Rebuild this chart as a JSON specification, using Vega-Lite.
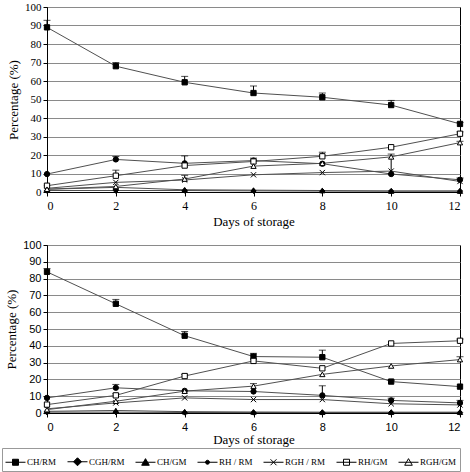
{
  "$schema": "https://vega.github.io/schema/vega-lite/v6.json",
  "padding": {"left": 1, "top": 0, "right": 5, "bottom": 0},
  "background": "white",
  "spacing": 9,
  "datasets": {
    "pts": [
      {"p": "top", "s": "CH/RM", "d": 0, "v": 89, "hi": 92.8},
      {"p": "top", "s": "CH/RM", "d": 2, "v": 68, "hi": 70},
      {"p": "top", "s": "CH/RM", "d": 4, "v": 59.3, "hi": 62.5},
      {"p": "top", "s": "CH/RM", "d": 6, "v": 53.5, "hi": 57.3},
      {"p": "top", "s": "CH/RM", "d": 8, "v": 51.2, "hi": 53.5},
      {"p": "top", "s": "CH/RM", "d": 10, "v": 47, "hi": 49.5},
      {"p": "top", "s": "CH/RM", "d": 12, "v": 36.8, "hi": 37.6},
      {"p": "top", "s": "CGH/RM", "d": 0, "v": 0.8},
      {"p": "top", "s": "CGH/RM", "d": 2, "v": 0.8},
      {"p": "top", "s": "CGH/RM", "d": 4, "v": 0.8},
      {"p": "top", "s": "CGH/RM", "d": 6, "v": 0.6},
      {"p": "top", "s": "CGH/RM", "d": 8, "v": 0.5},
      {"p": "top", "s": "CGH/RM", "d": 10, "v": 0.5},
      {"p": "top", "s": "CGH/RM", "d": 12, "v": 0.5},
      {"p": "top", "s": "CH/GM", "d": 0, "v": 1.5},
      {"p": "top", "s": "CH/GM", "d": 2, "v": 2.5},
      {"p": "top", "s": "CH/GM", "d": 4, "v": 1.2},
      {"p": "top", "s": "CH/GM", "d": 6, "v": 1},
      {"p": "top", "s": "CH/GM", "d": 8, "v": 0.8},
      {"p": "top", "s": "CH/GM", "d": 10, "v": 0.5},
      {"p": "top", "s": "CH/GM", "d": 12, "v": 0.5},
      {"p": "top", "s": "RH / RM", "d": 0, "v": 9.7},
      {"p": "top", "s": "RH / RM", "d": 2, "v": 17.6, "hi": 19.2},
      {"p": "top", "s": "RH / RM", "d": 4, "v": 15.5, "hi": 19.5},
      {"p": "top", "s": "RH / RM", "d": 6, "v": 17},
      {"p": "top", "s": "RH / RM", "d": 8, "v": 15.3},
      {"p": "top", "s": "RH / RM", "d": 10, "v": 9.7},
      {"p": "top", "s": "RH / RM", "d": 12, "v": 6.6, "hi": 7.6},
      {"p": "top", "s": "RGH / RM", "d": 0, "v": 2},
      {"p": "top", "s": "RGH / RM", "d": 2, "v": 5.2},
      {"p": "top", "s": "RGH / RM", "d": 4, "v": 6.5, "hi": 9},
      {"p": "top", "s": "RGH / RM", "d": 6, "v": 9.3},
      {"p": "top", "s": "RGH / RM", "d": 8, "v": 10.5},
      {"p": "top", "s": "RGH / RM", "d": 10, "v": 11.3, "hi": 20.5},
      {"p": "top", "s": "RGH / RM", "d": 12, "v": 5.7},
      {"p": "top", "s": "RH/GM", "d": 0, "v": 3.4},
      {"p": "top", "s": "RH/GM", "d": 2, "v": 8.8, "hi": 11.8},
      {"p": "top", "s": "RH/GM", "d": 4, "v": 14.3},
      {"p": "top", "s": "RH/GM", "d": 6, "v": 16.5, "hi": 18.3},
      {"p": "top", "s": "RH/GM", "d": 8, "v": 19.3, "hi": 21.5},
      {"p": "top", "s": "RH/GM", "d": 10, "v": 24.2},
      {"p": "top", "s": "RH/GM", "d": 12, "v": 31.5, "hi": 32.5},
      {"p": "top", "s": "RGH/GM", "d": 0, "v": 1.5},
      {"p": "top", "s": "RGH/GM", "d": 2, "v": 3},
      {"p": "top", "s": "RGH/GM", "d": 4, "v": 7},
      {"p": "top", "s": "RGH/GM", "d": 6, "v": 14},
      {"p": "top", "s": "RGH/GM", "d": 8, "v": 15.5},
      {"p": "top", "s": "RGH/GM", "d": 10, "v": 19},
      {"p": "top", "s": "RGH/GM", "d": 12, "v": 26.7, "hi": 27.4},

      {"p": "bot", "s": "CH/RM", "d": 0, "v": 84, "hi": 86},
      {"p": "bot", "s": "CH/RM", "d": 2, "v": 65, "hi": 67.6},
      {"p": "bot", "s": "CH/RM", "d": 4, "v": 46, "hi": 48.5},
      {"p": "bot", "s": "CH/RM", "d": 6, "v": 33.6, "hi": 35.5},
      {"p": "bot", "s": "CH/RM", "d": 8, "v": 33.2, "hi": 37.4},
      {"p": "bot", "s": "CH/RM", "d": 10, "v": 18.7, "hi": 19.5},
      {"p": "bot", "s": "CH/RM", "d": 12, "v": 15.7},
      {"p": "bot", "s": "CGH/RM", "d": 0, "v": 0.5},
      {"p": "bot", "s": "CGH/RM", "d": 2, "v": 0.5},
      {"p": "bot", "s": "CGH/RM", "d": 4, "v": 0.3},
      {"p": "bot", "s": "CGH/RM", "d": 6, "v": 0.3},
      {"p": "bot", "s": "CGH/RM", "d": 8, "v": 0.3},
      {"p": "bot", "s": "CGH/RM", "d": 10, "v": 0.3},
      {"p": "bot", "s": "CGH/RM", "d": 12, "v": 0.3},
      {"p": "bot", "s": "CH/GM", "d": 0, "v": 1},
      {"p": "bot", "s": "CH/GM", "d": 2, "v": 1.5},
      {"p": "bot", "s": "CH/GM", "d": 4, "v": 0.8},
      {"p": "bot", "s": "CH/GM", "d": 6, "v": 0.6},
      {"p": "bot", "s": "CH/GM", "d": 8, "v": 0.5},
      {"p": "bot", "s": "CH/GM", "d": 10, "v": 0.5},
      {"p": "bot", "s": "CH/GM", "d": 12, "v": 0.5},
      {"p": "bot", "s": "RH / RM", "d": 0, "v": 9},
      {"p": "bot", "s": "RH / RM", "d": 2, "v": 15, "hi": 17},
      {"p": "bot", "s": "RH / RM", "d": 4, "v": 13.2},
      {"p": "bot", "s": "RH / RM", "d": 6, "v": 12.8},
      {"p": "bot", "s": "RH / RM", "d": 8, "v": 10.5, "hi": 16.2},
      {"p": "bot", "s": "RH / RM", "d": 10, "v": 7.5, "hi": 8.8},
      {"p": "bot", "s": "RH / RM", "d": 12, "v": 6, "hi": 7.5},
      {"p": "bot", "s": "RGH / RM", "d": 0, "v": 2.5},
      {"p": "bot", "s": "RGH / RM", "d": 2, "v": 6},
      {"p": "bot", "s": "RGH / RM", "d": 4, "v": 9},
      {"p": "bot", "s": "RGH / RM", "d": 6, "v": 8},
      {"p": "bot", "s": "RGH / RM", "d": 8, "v": 8},
      {"p": "bot", "s": "RGH / RM", "d": 10, "v": 5.5},
      {"p": "bot", "s": "RGH / RM", "d": 12, "v": 4.8},
      {"p": "bot", "s": "RH/GM", "d": 0, "v": 5},
      {"p": "bot", "s": "RH/GM", "d": 2, "v": 10.5, "hi": 11.5},
      {"p": "bot", "s": "RH/GM", "d": 4, "v": 22, "hi": 23},
      {"p": "bot", "s": "RH/GM", "d": 6, "v": 31, "hi": 32},
      {"p": "bot", "s": "RH/GM", "d": 8, "v": 26.6},
      {"p": "bot", "s": "RH/GM", "d": 10, "v": 41.4},
      {"p": "bot", "s": "RH/GM", "d": 12, "v": 43, "hi": 44},
      {"p": "bot", "s": "RGH/GM", "d": 0, "v": 2},
      {"p": "bot", "s": "RGH/GM", "d": 2, "v": 7},
      {"p": "bot", "s": "RGH/GM", "d": 4, "v": 13},
      {"p": "bot", "s": "RGH/GM", "d": 6, "v": 16, "hi": 17.5},
      {"p": "bot", "s": "RGH/GM", "d": 8, "v": 23},
      {"p": "bot", "s": "RGH/GM", "d": 10, "v": 28},
      {"p": "bot", "s": "RGH/GM", "d": 12, "v": 31.8, "hi": 33.5}
    ]
  },
  "data": {"name": "pts"},
  "resolve": {"scale": {"shape": "independent", "fill": "independent"}, "legend": {"shape": "independent", "fill": "independent"}},
  "vconcat": [
    {
      "width": 413,
      "height": 185,
      "transform": [{"filter": "datum.p == 'top'"}],
      "encoding": {
        "x": {"field": "d", "type": "quantitative", "title": "Days of storage",
          "scale": {"domain": [0, 12], "nice": false},
          "axis": {"values": [0, 2, 4, 6, 8, 10, 12], "grid": false, "labelFont": "Liberation Serif", "labelFontSize": 12, "titleFont": "Liberation Serif", "titleFontSize": 13, "titleFontWeight": "normal", "labelPadding": 4, "titlePadding": 4, "tickSize": 4, "tickColor": "black", "domainColor": "black", "labelColor": "black", "titleColor": "black"}}
      },
      "layer": [
        {"mark": {"type": "line", "color": "#505050", "strokeWidth": 1},
         "encoding": {"detail": {"field": "s"},
           "y": {"field": "v", "type": "quantitative", "title": "Percentage (%)",
             "scale": {"domain": [0, 100], "nice": false},
             "axis": {"values": [0, 10, 20, 30, 40, 50, 60, 70, 80, 90, 100], "labelOverlap": false, "gridColor": "#8a8a8a", "gridOpacity": 1, "labelFont": "Liberation Serif", "labelFontSize": 11, "titleFont": "Liberation Serif", "titleFontSize": 13, "titleFontWeight": "normal", "labelPadding": 2, "titlePadding": 4, "tickSize": 4, "tickColor": "black", "domainColor": "black", "labelColor": "black", "titleColor": "black"}}}},
        {"transform": [{"filter": "isValid(datum.hi)"}],
         "mark": {"type": "rule", "color": "black", "strokeWidth": 1},
         "encoding": {"y": {"field": "v", "type": "quantitative", "title": "Percentage (%)",
             "scale": {"domain": [0, 100], "nice": false},
             "axis": {"values": [0, 10, 20, 30, 40, 50, 60, 70, 80, 90, 100], "labelOverlap": false, "gridColor": "#8a8a8a", "gridOpacity": 1, "labelFont": "Liberation Serif", "labelFontSize": 11, "titleFont": "Liberation Serif", "titleFontSize": 13, "titleFontWeight": "normal", "labelPadding": 2, "titlePadding": 4, "tickSize": 4, "tickColor": "black", "domainColor": "black", "labelColor": "black", "titleColor": "black"}}, "y2": {"field": "hi"}}},
        {"transform": [{"filter": "isValid(datum.hi)"}],
         "mark": {"type": "tick", "orient": "horizontal", "size": 7, "thickness": 1, "color": "black"},
         "encoding": {"y": {"field": "hi", "type": "quantitative", "title": "Percentage (%)",
             "scale": {"domain": [0, 100], "nice": false},
             "axis": {"values": [0, 10, 20, 30, 40, 50, 60, 70, 80, 90, 100], "labelOverlap": false, "gridColor": "#8a8a8a", "gridOpacity": 1, "labelFont": "Liberation Serif", "labelFontSize": 11, "titleFont": "Liberation Serif", "titleFontSize": 13, "titleFontWeight": "normal", "labelPadding": 2, "titlePadding": 4, "tickSize": 4, "tickColor": "black", "domainColor": "black", "labelColor": "black", "titleColor": "black"}}}},
        {"mark": {"type": "point", "filled": true, "stroke": "black", "strokeWidth": 1, "size": 28, "opacity": 1},
         "encoding": {
           "y": {"field": "v", "type": "quantitative", "title": "Percentage (%)",
             "scale": {"domain": [0, 100], "nice": false},
             "axis": {"values": [0, 10, 20, 30, 40, 50, 60, 70, 80, 90, 100], "labelOverlap": false, "gridColor": "#8a8a8a", "gridOpacity": 1, "labelFont": "Liberation Serif", "labelFontSize": 11, "titleFont": "Liberation Serif", "titleFontSize": 13, "titleFontWeight": "normal", "labelPadding": 2, "titlePadding": 4, "tickSize": 4, "tickColor": "black", "domainColor": "black", "labelColor": "black", "titleColor": "black"}},
           "shape": {"field": "s", "legend": null, "scale": {"domain": ["CH/RM", "CGH/RM", "CH/GM", "RH / RM", "RGH / RM", "RH/GM", "RGH/GM"], "range": ["square", "diamond", "triangle-up", "circle", "M-1,-1L1,1M-1,1L1,-1", "square", "triangle-up"]}},
           "fill": {"field": "s", "legend": null, "scale": {"domain": ["CH/RM", "CGH/RM", "CH/GM", "RH / RM", "RGH / RM", "RH/GM", "RGH/GM"], "range": ["black", "black", "black", "black", "black", "white", "white"]}}}}
      ]
    },
    {
      "width": 413,
      "height": 168,
      "transform": [{"filter": "datum.p == 'bot'"}],
      "resolve": {"scale": {"shape": "independent", "fill": "independent"}, "legend": {"shape": "independent", "fill": "independent"}},
      "encoding": {
        "x": {"field": "d", "type": "quantitative", "title": "Days of storage",
          "scale": {"domain": [0, 12], "nice": false},
          "axis": {"values": [0, 2, 4, 6, 8, 10, 12], "grid": false, "labelFont": "Liberation Sans", "labelFontSize": 11, "titleFont": "Liberation Serif", "titleFontSize": 13, "titleFontWeight": "normal", "labelPadding": 4, "titlePadding": 1, "tickSize": 4, "tickColor": "black", "domainColor": "black", "labelColor": "black", "titleColor": "black"}}
      },
      "layer": [
        {"mark": {"type": "line", "color": "#505050", "strokeWidth": 1},
         "encoding": {"detail": {"field": "s"},
           "y": {"field": "v", "type": "quantitative", "title": "Percentage (%)",
             "scale": {"domain": [0, 100], "nice": false},
             "axis": {"values": [0, 10, 20, 30, 40, 50, 60, 70, 80, 90, 100], "labelOverlap": false, "gridColor": "#8a8a8a", "gridOpacity": 1, "labelFont": "Liberation Sans", "labelFontSize": 11, "titleFont": "Liberation Serif", "titleFontSize": 13, "titleFontWeight": "normal", "labelPadding": 2, "titlePadding": 4, "tickSize": 4, "tickColor": "black", "domainColor": "black", "labelColor": "black", "titleColor": "black"}}}},
        {"transform": [{"filter": "isValid(datum.hi)"}],
         "mark": {"type": "rule", "color": "black", "strokeWidth": 1},
         "encoding": {"y": {"field": "v", "type": "quantitative", "title": "Percentage (%)",
             "scale": {"domain": [0, 100], "nice": false},
             "axis": {"values": [0, 10, 20, 30, 40, 50, 60, 70, 80, 90, 100], "labelOverlap": false, "gridColor": "#8a8a8a", "gridOpacity": 1, "labelFont": "Liberation Sans", "labelFontSize": 11, "titleFont": "Liberation Serif", "titleFontSize": 13, "titleFontWeight": "normal", "labelPadding": 2, "titlePadding": 4, "tickSize": 4, "tickColor": "black", "domainColor": "black", "labelColor": "black", "titleColor": "black"}}, "y2": {"field": "hi"}}},
        {"transform": [{"filter": "isValid(datum.hi)"}],
         "mark": {"type": "tick", "orient": "horizontal", "size": 7, "thickness": 1, "color": "black"},
         "encoding": {"y": {"field": "hi", "type": "quantitative", "title": "Percentage (%)",
             "scale": {"domain": [0, 100], "nice": false},
             "axis": {"values": [0, 10, 20, 30, 40, 50, 60, 70, 80, 90, 100], "labelOverlap": false, "gridColor": "#8a8a8a", "gridOpacity": 1, "labelFont": "Liberation Sans", "labelFontSize": 11, "titleFont": "Liberation Serif", "titleFontSize": 13, "titleFontWeight": "normal", "labelPadding": 2, "titlePadding": 4, "tickSize": 4, "tickColor": "black", "domainColor": "black", "labelColor": "black", "titleColor": "black"}}}},
        {"mark": {"type": "point", "filled": true, "stroke": "black", "strokeWidth": 1, "size": 28, "opacity": 1},
         "encoding": {
           "y": {"field": "v", "type": "quantitative", "title": "Percentage (%)",
             "scale": {"domain": [0, 100], "nice": false},
             "axis": {"values": [0, 10, 20, 30, 40, 50, 60, 70, 80, 90, 100], "labelOverlap": false, "gridColor": "#8a8a8a", "gridOpacity": 1, "labelFont": "Liberation Sans", "labelFontSize": 11, "titleFont": "Liberation Serif", "titleFontSize": 13, "titleFontWeight": "normal", "labelPadding": 2, "titlePadding": 4, "tickSize": 4, "tickColor": "black", "domainColor": "black", "labelColor": "black", "titleColor": "black"}},
           "shape": {"field": "s", "legend": null, "scale": {"domain": ["CH/RM", "CGH/RM", "CH/GM", "RH / RM", "RGH / RM", "RH/GM", "RGH/GM"], "range": ["square", "diamond", "triangle-up", "circle", "M-1,-1L1,1M-1,1L1,-1", "square", "triangle-up"]}},
           "fill": {"field": "s", "legend": null, "scale": {"domain": ["CH/RM", "CGH/RM", "CH/GM", "RH / RM", "RGH / RM", "RH/GM", "RGH/GM"], "range": ["black", "black", "black", "black", "black", "white", "white"]}}}},
        {"mark": {"type": "point", "filled": true, "stroke": "black", "strokeWidth": 1, "opacity": 0},
         "encoding": {
           "y": {"field": "v", "type": "quantitative", "title": "Percentage (%)",
             "scale": {"domain": [0, 100], "nice": false},
             "axis": {"values": [0, 10, 20, 30, 40, 50, 60, 70, 80, 90, 100], "labelOverlap": false, "gridColor": "#8a8a8a", "gridOpacity": 1, "labelFont": "Liberation Sans", "labelFontSize": 11, "titleFont": "Liberation Serif", "titleFontSize": 13, "titleFontWeight": "normal", "labelPadding": 2, "titlePadding": 4, "tickSize": 4, "tickColor": "black", "domainColor": "black", "labelColor": "black", "titleColor": "black"}},
           "shape": {"field": "s", "scale": {"domain": ["CH/RM", "CGH/RM", "CH/GM", "RH / RM", "RGH / RM", "RH/GM", "RGH/GM"], "range": [
               "M-1,0H1M-0.3,-0.3H0.3V0.3H-0.3Z",
               "M-1,0H1M0,-0.4L0.4,0L0,0.4L-0.4,0Z",
               "M-1,0H1M0,-0.36L0.38,0.3H-0.38Z",
               "M-1,0H1M-0.2,0A0.2,0.2 0 1,0 0.2,0A0.2,0.2 0 1,0 -0.2,0Z",
               "M-1,0H1M-0.3,-0.3L0.3,0.3M-0.3,0.3L0.3,-0.3",
               "M-1,0H1M-0.3,-0.3H0.3V0.3H-0.3Z",
               "M-1,0H1M0,-0.36L0.38,0.3H-0.38Z"]},
             "legend": {"title": null, "orient": "none", "legendX": -45, "legendY": 203, "direction": "horizontal", "symbolSize": 400, "symbolStrokeWidth": 1, "symbolStrokeColor": "black", "symbolOpacity": 1, "labelFont": "Liberation Serif", "labelFontSize": 9, "labelColor": "black", "labelOffset": 1, "columnPadding": 8, "strokeColor": "#999", "padding": 3,
               "encode": {"symbols": {"update": {"opacity": {"value": 1}, "stroke": {"value": "black"}, "strokeWidth": {"value": 1}}}}}},
           "fill": {"field": "s", "scale": {"domain": ["CH/RM", "CGH/RM", "CH/GM", "RH / RM", "RGH / RM", "RH/GM", "RGH/GM"], "range": ["black", "black", "black", "black", "black", "white", "white"]},
             "legend": {"title": null, "orient": "none", "legendX": -45, "legendY": 203, "direction": "horizontal", "symbolSize": 400, "symbolStrokeWidth": 1, "symbolStrokeColor": "black", "symbolOpacity": 1, "labelFont": "Liberation Serif", "labelFontSize": 9, "labelColor": "black", "labelOffset": 1, "columnPadding": 8, "strokeColor": "#999", "padding": 3,
               "encode": {"symbols": {"update": {"opacity": {"value": 1}, "stroke": {"value": "black"}, "strokeWidth": {"value": 1}}}}}}}}
      ]
    }
  ],
  "config": {
    "view": {"stroke": "black", "strokeWidth": 1},
    "axis": {"domainWidth": 1, "tickWidth": 1}
  }
}
